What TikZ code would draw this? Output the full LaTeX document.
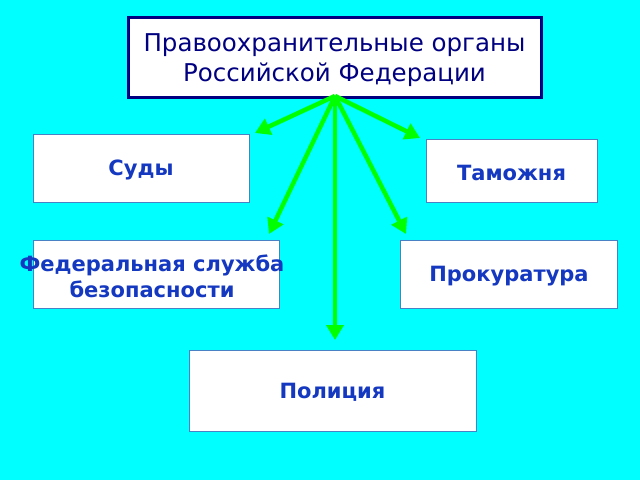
\documentclass[tikz,border=0pt]{standalone}
\usepackage{fontspec}
\setmainfont{DejaVu Sans}
\usetikzlibrary{arrows.meta}
\definecolor{bgcyan}{HTML}{00FFFF}
\definecolor{navy}{HTML}{000080}
\definecolor{boxtext}{HTML}{1438C0}
\definecolor{boxline}{HTML}{4A80C4}
\definecolor{arrgreen}{HTML}{00FF00}
\tikzset{
  titlebox/.style={draw=navy, line width=3pt, fill=white, inner sep=0pt},
  titletxt/.style={text=navy, font=\fontsize{24.5}{30}\selectfont, align=center, inner sep=0pt},
  orgbox/.style={draw=boxline, line width=1pt, fill=white, inner sep=0pt},
  orgtxt/.style={text=boxtext, font=\bfseries\fontsize{21}{26}\selectfont, align=center, inner sep=0pt},
  arr/.style={draw=arrgreen, line width=4.5pt, -{Triangle[length=15pt,width=17pt]}}
}
\begin{document}
\begin{tikzpicture}[x=1pt,y=-1pt]
\fill[bgcyan] (0,0) rectangle (640,480);
\useasboundingbox (0,0) rectangle (640,480);
% boxes
\node[titlebox, minimum width=413pt, minimum height=80pt] (title) at (334.5,57) {};
\node[titletxt] (titletext) at (334.5,60) {Правоохранительные органы\\Российской Федерации};
\node[orgbox, minimum width=216pt, minimum height=68pt] (sudy) at (141,168) {};
\node[orgtxt] (sudyt) at (141,170) {Суды};
\node[orgbox, minimum width=171pt, minimum height=63pt] (tam) at (511.5,170.5) {};
\node[orgtxt] (tamt) at (511.5,173) {Таможня};
\node[orgbox, minimum width=246pt, minimum height=68pt] (fsb) at (156,274) {};
\node[orgtxt] (fsbt) at (152,276) {Федеральная служба\\безопасности};
\node[orgbox, minimum width=217pt, minimum height=68pt] (prok) at (508.5,274) {};
\node[orgtxt] (prokt) at (509,276) {Прокуратура};
\node[orgbox, minimum width=287pt, minimum height=81pt] (pol) at (332.5,390.5) {};
\node[orgtxt] (polt) at (332.5,392) {Полиция};
% arrows
\coordinate (src) at (335,96);
\coordinate (e1) at (255,133);
\coordinate (e2) at (420,138);
\coordinate (e3) at (269,234);
\coordinate (e4) at (406,234);
\coordinate (e5) at (335,340);
\draw[arr] (src) -- (e1);
\draw[arr] (src) -- (e2);
\draw[arr] (src) -- (e3);
\draw[arr] (src) -- (e4);
\draw[arr] (src) -- (e5);
\end{tikzpicture}
\end{document}
